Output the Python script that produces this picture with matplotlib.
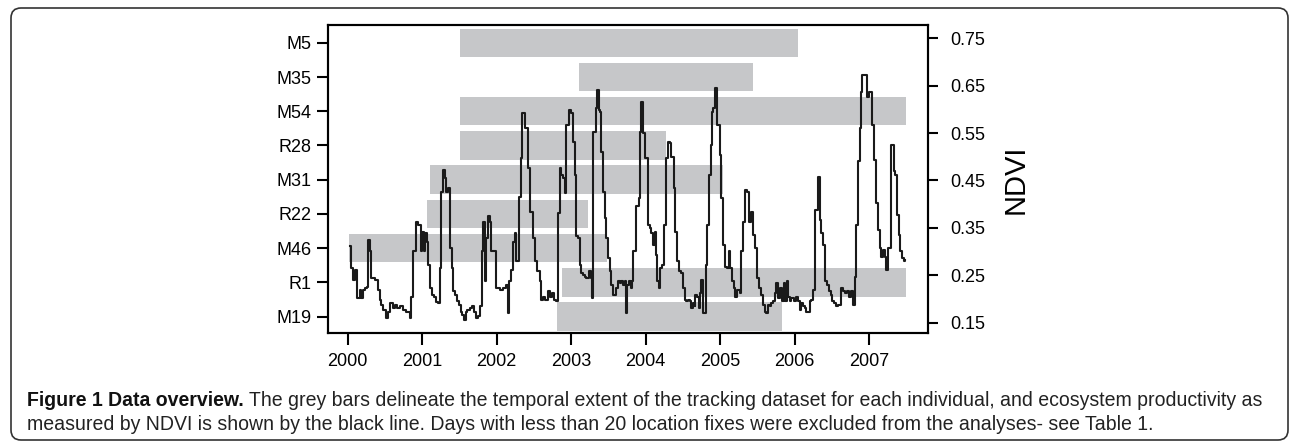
import matplotlib
matplotlib.use("Agg")
import matplotlib.pyplot as plt
from matplotlib.patches import FancyBboxPatch

# tracking periods per individual (decimal years), bottom to top
individuals = ["M19", "R1", "M46", "R22", "M31", "R28", "M54", "M35", "M5"]
track_start = [2002.81, 2002.87, 2000.02, 2001.06, 2001.10, 2001.51, 2001.51, 2003.10, 2001.51]
track_end = [2005.83, 2007.50, 2003.48, 2003.22, 2005.04, 2004.27, 2007.50, 2005.44, 2006.05]

# NDVI series (decimal year, NDVI), drawn as steps
ndvi_time = [
    2000.031, 2000.049, 2000.076, 2000.094, 2000.121, 2000.130, 2000.161, 2000.183, 2000.210, 2000.237,
    2000.264, 2000.273, 2000.295, 2000.318, 2000.362, 2000.407, 2000.429, 2000.452, 2000.474, 2000.519,
    2000.541, 2000.564, 2000.608, 2000.631, 2000.667, 2000.698, 2000.743, 2000.787, 2000.832, 2000.855,
    2000.881, 2000.913, 2000.944, 2000.980, 2001.002, 2001.025, 2001.038, 2001.060, 2001.078, 2001.100,
    2001.132, 2001.159, 2001.181, 2001.212, 2001.239, 2001.257, 2001.275, 2001.302, 2001.324, 2001.346,
    2001.368, 2001.400, 2001.413, 2001.444, 2001.471, 2001.494, 2001.516, 2001.534, 2001.561, 2001.583,
    2001.605, 2001.637, 2001.668, 2001.695, 2001.717, 2001.749, 2001.780, 2001.802, 2001.816, 2001.838,
    2001.861, 2001.883, 2001.905, 2001.928, 2001.959, 2001.995, 2002.040, 2002.084, 2002.129, 2002.152,
    2002.165, 2002.196, 2002.218, 2002.241, 2002.263, 2002.295, 2002.321, 2002.339, 2002.384, 2002.420,
    2002.451, 2002.487, 2002.509, 2002.545, 2002.576, 2002.590, 2002.621, 2002.652, 2002.688, 2002.711,
    2002.742, 2002.769, 2002.800, 2002.822, 2002.845, 2002.867, 2002.889, 2002.912, 2002.934, 2002.957,
    2002.970, 2003.002, 2003.024, 2003.046, 2003.069, 2003.091, 2003.114, 2003.136, 2003.158, 2003.181,
    2003.203, 2003.234, 2003.261, 2003.279, 2003.297, 2003.315, 2003.333, 2003.351, 2003.373, 2003.391,
    2003.404, 2003.427, 2003.449, 2003.472, 2003.494, 2003.516, 2003.539, 2003.561, 2003.583, 2003.606,
    2003.628, 2003.650, 2003.673, 2003.695, 2003.718, 2003.735, 2003.753, 2003.776, 2003.798, 2003.816,
    2003.834, 2003.874, 2003.905, 2003.923, 2003.941, 2003.964, 2003.995, 2004.031, 2004.053, 2004.076,
    2004.098, 2004.120, 2004.138, 2004.156, 2004.174, 2004.192, 2004.219, 2004.246, 2004.272, 2004.299,
    2004.322, 2004.344, 2004.375, 2004.398, 2004.420, 2004.447, 2004.478, 2004.501, 2004.523, 2004.545,
    2004.568, 2004.590, 2004.613, 2004.635, 2004.657, 2004.666, 2004.693, 2004.711, 2004.725, 2004.747,
    2004.769, 2004.792, 2004.805, 2004.827, 2004.845, 2004.872, 2004.890, 2004.908, 2004.926, 2004.962,
    2004.993, 2005.015, 2005.038, 2005.069, 2005.096, 2005.114, 2005.136, 2005.159, 2005.185, 2005.203,
    2005.230, 2005.261, 2005.275, 2005.306, 2005.338, 2005.364, 2005.387, 2005.409, 2005.440, 2005.472,
    2005.494, 2005.517, 2005.543, 2005.575, 2005.597, 2005.619, 2005.642, 2005.664, 2005.687, 2005.709,
    2005.740, 2005.754, 2005.776, 2005.798, 2005.830, 2005.852, 2005.874, 2005.892, 2005.910, 2005.933,
    2005.955, 2005.991, 2006.022, 2006.044, 2006.067, 2006.089, 2006.112, 2006.134, 2006.156, 2006.179,
    2006.201, 2006.224, 2006.246, 2006.268, 2006.277, 2006.313, 2006.336, 2006.358, 2006.380, 2006.412,
    2006.438, 2006.461, 2006.483, 2006.501, 2006.528, 2006.555, 2006.582, 2006.617, 2006.644, 2006.671,
    2006.698, 2006.725, 2006.752, 2006.783, 2006.805, 2006.828, 2006.850, 2006.872, 2006.895, 2006.908,
    2006.966, 2006.998, 2007.042, 2007.065, 2007.096, 2007.119, 2007.141, 2007.163, 2007.186, 2007.208,
    2007.230, 2007.253, 2007.297, 2007.333, 2007.351, 2007.374, 2007.396, 2007.418, 2007.441, 2007.467,
    2007.485,
]
ndvi_value = [
    0.311, 0.265, 0.240, 0.261, 0.237, 0.202, 0.219, 0.202, 0.219, 0.223,
    0.226, 0.325, 0.300, 0.244, 0.240, 0.219, 0.198, 0.187, 0.177, 0.159,
    0.173, 0.191, 0.180, 0.187, 0.180, 0.184, 0.177, 0.173, 0.159, 0.205,
    0.300, 0.363, 0.356, 0.300, 0.342, 0.300, 0.339, 0.321, 0.272, 0.223,
    0.209, 0.205, 0.194, 0.191, 0.265, 0.426, 0.471, 0.455, 0.426, 0.434,
    0.307, 0.265, 0.216, 0.209, 0.195, 0.188, 0.173, 0.166, 0.156, 0.173,
    0.177, 0.180, 0.184, 0.173, 0.159, 0.163, 0.184, 0.300, 0.363, 0.237,
    0.328, 0.374, 0.363, 0.300, 0.301, 0.223, 0.219, 0.223, 0.230, 0.170,
    0.237, 0.261, 0.321, 0.339, 0.279, 0.416, 0.497, 0.592, 0.560, 0.476,
    0.384, 0.328, 0.279, 0.258, 0.237, 0.198, 0.205, 0.198, 0.216, 0.205,
    0.212, 0.198, 0.195, 0.381, 0.476, 0.462, 0.455, 0.423, 0.567, 0.567,
    0.599, 0.592, 0.532, 0.462, 0.332, 0.328, 0.272, 0.254, 0.251, 0.247,
    0.244, 0.258, 0.244, 0.202, 0.553, 0.553, 0.602, 0.641, 0.599, 0.595,
    0.511, 0.426, 0.370, 0.328, 0.286, 0.258, 0.230, 0.209, 0.209, 0.223,
    0.237, 0.233, 0.237, 0.230, 0.237, 0.170, 0.230, 0.237, 0.223, 0.237,
    0.300, 0.395, 0.412, 0.553, 0.616, 0.550, 0.497, 0.356, 0.349, 0.339,
    0.314, 0.342, 0.293, 0.237, 0.223, 0.265, 0.272, 0.356, 0.497, 0.532,
    0.528, 0.500, 0.434, 0.342, 0.279, 0.258, 0.254, 0.223, 0.198, 0.195,
    0.198, 0.195, 0.180, 0.191, 0.184, 0.209, 0.205, 0.180, 0.212, 0.240,
    0.170, 0.170, 0.272, 0.356, 0.462, 0.525, 0.595, 0.602, 0.644, 0.567,
    0.504, 0.412, 0.314, 0.268, 0.265, 0.300, 0.265, 0.237, 0.223, 0.205,
    0.219, 0.212, 0.300, 0.363, 0.430, 0.426, 0.363, 0.384, 0.335, 0.307,
    0.244, 0.223, 0.209, 0.187, 0.173, 0.170, 0.187, 0.184, 0.191, 0.195,
    0.212, 0.233, 0.202, 0.223, 0.195, 0.233, 0.195, 0.237, 0.205, 0.195,
    0.202, 0.195, 0.205, 0.195, 0.177, 0.191, 0.184, 0.180, 0.173, 0.173,
    0.195, 0.198, 0.219, 0.289, 0.388, 0.458, 0.367, 0.339, 0.314, 0.237,
    0.230, 0.216, 0.209, 0.195, 0.191, 0.184, 0.187, 0.223, 0.216, 0.212,
    0.216, 0.205, 0.216, 0.187, 0.247, 0.356, 0.490, 0.560, 0.637, 0.673,
    0.627, 0.637, 0.567, 0.493, 0.402, 0.346, 0.307, 0.289, 0.303, 0.289,
    0.261, 0.307, 0.525, 0.469, 0.462, 0.377, 0.335, 0.300, 0.286, 0.279,
    0.282,
]

year_ticks = list(range(2000, 2008))
ndvi_ticks = [0.15, 0.25, 0.35, 0.45, 0.55, 0.65, 0.75]

caption_bold = "Figure 1 Data overview."
caption_line1 = ("The grey bars delineate the temporal extent of the tracking dataset for each "
                 "individual, and ecosystem productivity as")
caption_line2 = ("measured by NDVI is shown by the black line. Days with less than 20 location "
                 "fixes were excluded from the analyses- see Table 1.")

plt.rcParams.update({
    "font.family": ["Liberation Sans", "DejaVu Sans"],
    "font.size": 13,
    "axes.linewidth": 1.5,
    "xtick.major.width": 1.5,
    "ytick.major.width": 1.5,
    "xtick.major.size": 8.5,
    "ytick.major.size": 8,
})

W, H = 1290, 441
fig = plt.figure(figsize=(W / 100, H / 100), dpi=100)
ax = fig.add_axes([328 / W, 1 - 333 / H, 600 / W, 308 / H])

pos = list(range(1, len(individuals) + 1))
widths = [e - s for s, e in zip(track_start, track_end)]
ax.barh(pos, widths, left=track_start, height=0.83, color="#c6c7c9", zorder=1)
ax.set_yticks(pos)
ax.set_yticklabels(individuals)
ax.set_ylim(0.52, 9.52)
ax.set_xlim(1999.735, 2007.79)
ax.set_xticks(year_ticks)
ax.set_xticklabels([str(y) for y in year_ticks])
ax.tick_params(axis="y", pad=4)
ax.tick_params(axis="x", pad=6)

ax2 = ax.twinx()
ax2.plot(ndvi_time, ndvi_value, drawstyle="steps-post", color="#1a1a1a", lw=1.5)
ax2.set_ylim(0.128, 0.778)
ax2.set_yticks(ndvi_ticks)
ax2.set_yticklabels([f"{v:.2f}" for v in ndvi_ticks])
ax2.tick_params(axis="y", pad=9, length=7)
ax2.set_ylabel("NDVI", fontsize=21, labelpad=12)

# caption: scale the font so the first line spans the reference width
fig.canvas.draw()
renderer = fig.canvas.get_renderer()
cap_x, cap_right = 27, 1264
cap_size = 12.5
for _ in range(4):
    tb = fig.text(cap_x / W, 1 - 401 / H, caption_bold, fontsize=cap_size, fontweight="bold",
                  va="center", ha="left", color="#111111")
    bb = tb.get_window_extent(renderer)
    t1 = fig.text((bb.x1 + 0.4 * cap_size) / W, 1 - 401 / H, caption_line1, fontsize=cap_size,
                  va="center", ha="left", color="#222222")
    b1 = t1.get_window_extent(renderer)
    if abs(b1.x1 - cap_right) <= 3:
        break
    scale = (cap_right - cap_x) / (b1.x1 - cap_x)
    tb.remove()
    t1.remove()
    cap_size *= scale
fig.text(cap_x / W, 1 - 424 / H, caption_line2, fontsize=cap_size,
         va="center", ha="left", color="#222222")

# rounded frame around the figure
frame = FancyBboxPatch((11, 1), 1277, 432, boxstyle="round,pad=0,rounding_size=10",
                       transform=None, fill=False, edgecolor="#333333", lw=1.2)
fig.patches.append(frame)

fig.savefig("out.png", dpi=100)
